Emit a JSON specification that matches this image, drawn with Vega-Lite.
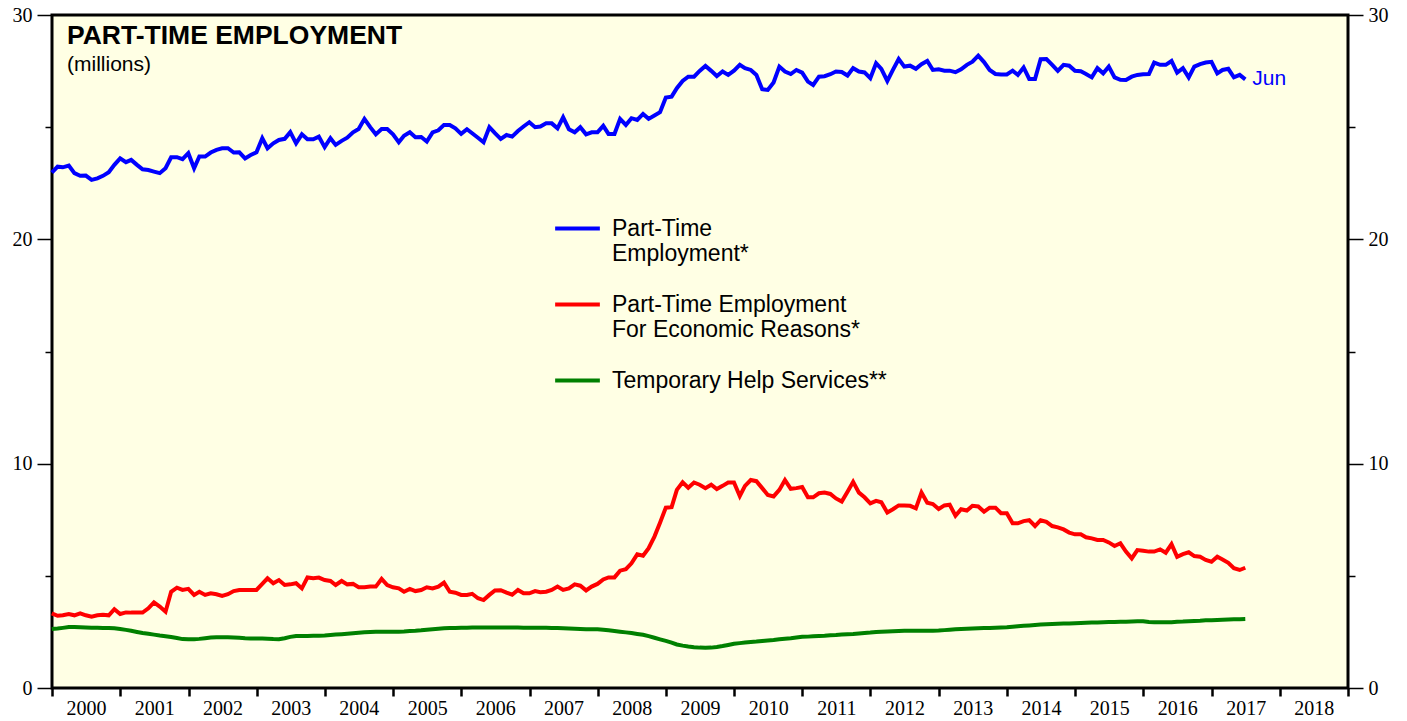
{
  "$schema": "https://vega.github.io/schema/vega-lite/v6.json",
  "width": 1296,
  "height": 673,
  "autosize": "none",
  "padding": {"left": 52, "top": 15, "right": 59, "bottom": 33},
  "background": "white",
  "config": {
    "view": {"fill": "#FFFFE4", "stroke": "black", "strokeWidth": 3},
    "font": "Liberation Sans"
  },
  "title": {
    "text": "PART-TIME EMPLOYMENT",
    "subtitle": "(millions)",
    "anchor": "start",
    "frame": "group",
    "orient": "top",
    "offset": -70,
    "dx": 15,
    "font": "Liberation Sans",
    "fontSize": 26.5,
    "fontWeight": "bold",
    "color": "black",
    "subtitleFont": "Liberation Sans",
    "subtitleFontSize": 21,
    "subtitleColor": "black",
    "subtitlePadding": 5
  },
  "data": {"values": [
{"d":"1999-12-31","a":22.97,"b":3.33,"c":2.63},
{"d":"2000-01-31","a":23.24,"b":3.22,"c":2.65},
{"d":"2000-02-28","a":23.21,"b":3.24,"c":2.68},
{"d":"2000-03-31","a":23.29,"b":3.30,"c":2.72},
{"d":"2000-04-30","a":22.95,"b":3.24,"c":2.72},
{"d":"2000-05-31","a":22.83,"b":3.33,"c":2.71},
{"d":"2000-06-30","a":22.84,"b":3.24,"c":2.70},
{"d":"2000-07-31","a":22.65,"b":3.18,"c":2.69},
{"d":"2000-08-31","a":22.72,"b":3.24,"c":2.69},
{"d":"2000-09-30","a":22.83,"b":3.27,"c":2.68},
{"d":"2000-10-31","a":22.99,"b":3.24,"c":2.67},
{"d":"2000-11-30","a":23.32,"b":3.51,"c":2.66},
{"d":"2000-12-31","a":23.61,"b":3.30,"c":2.63},
{"d":"2001-01-31","a":23.44,"b":3.37,"c":2.59},
{"d":"2001-02-28","a":23.54,"b":3.36,"c":2.55},
{"d":"2001-03-31","a":23.32,"b":3.36,"c":2.50},
{"d":"2001-04-30","a":23.12,"b":3.36,"c":2.45},
{"d":"2001-05-31","a":23.09,"b":3.55,"c":2.42},
{"d":"2001-06-30","a":23.02,"b":3.82,"c":2.38},
{"d":"2001-07-31","a":22.95,"b":3.63,"c":2.34},
{"d":"2001-08-31","a":23.17,"b":3.40,"c":2.31},
{"d":"2001-09-30","a":23.66,"b":4.29,"c":2.27},
{"d":"2001-10-31","a":23.66,"b":4.47,"c":2.23},
{"d":"2001-11-30","a":23.57,"b":4.37,"c":2.18},
{"d":"2001-12-31","a":23.84,"b":4.42,"c":2.17},
{"d":"2002-01-31","a":23.17,"b":4.15,"c":2.17},
{"d":"2002-02-28","a":23.69,"b":4.29,"c":2.19},
{"d":"2002-03-31","a":23.69,"b":4.15,"c":2.22},
{"d":"2002-04-30","a":23.87,"b":4.22,"c":2.25},
{"d":"2002-05-31","a":23.99,"b":4.18,"c":2.26},
{"d":"2002-06-30","a":24.06,"b":4.10,"c":2.26},
{"d":"2002-07-31","a":24.06,"b":4.18,"c":2.26},
{"d":"2002-08-31","a":23.87,"b":4.32,"c":2.25},
{"d":"2002-09-30","a":23.88,"b":4.37,"c":2.24},
{"d":"2002-10-31","a":23.61,"b":4.37,"c":2.22},
{"d":"2002-11-30","a":23.76,"b":4.37,"c":2.21},
{"d":"2002-12-31","a":23.88,"b":4.37,"c":2.21},
{"d":"2003-01-31","a":24.51,"b":4.64,"c":2.21},
{"d":"2003-02-28","a":24.06,"b":4.89,"c":2.20},
{"d":"2003-03-31","a":24.28,"b":4.67,"c":2.18},
{"d":"2003-04-30","a":24.43,"b":4.81,"c":2.17},
{"d":"2003-05-31","a":24.48,"b":4.59,"c":2.22},
{"d":"2003-06-30","a":24.78,"b":4.62,"c":2.28},
{"d":"2003-07-31","a":24.28,"b":4.67,"c":2.32},
{"d":"2003-08-31","a":24.68,"b":4.44,"c":2.32},
{"d":"2003-09-30","a":24.46,"b":4.93,"c":2.32},
{"d":"2003-10-31","a":24.46,"b":4.89,"c":2.33},
{"d":"2003-11-30","a":24.58,"b":4.92,"c":2.33},
{"d":"2003-12-31","a":24.11,"b":4.81,"c":2.34},
{"d":"2004-01-31","a":24.51,"b":4.77,"c":2.36},
{"d":"2004-02-28","a":24.21,"b":4.59,"c":2.38},
{"d":"2004-03-31","a":24.39,"b":4.77,"c":2.40},
{"d":"2004-04-30","a":24.53,"b":4.62,"c":2.42},
{"d":"2004-05-31","a":24.77,"b":4.64,"c":2.44},
{"d":"2004-06-30","a":24.92,"b":4.49,"c":2.46},
{"d":"2004-07-31","a":25.37,"b":4.49,"c":2.48},
{"d":"2004-08-31","a":25.00,"b":4.52,"c":2.50},
{"d":"2004-09-30","a":24.68,"b":4.52,"c":2.51},
{"d":"2004-10-31","a":24.92,"b":4.86,"c":2.51},
{"d":"2004-11-30","a":24.92,"b":4.59,"c":2.51},
{"d":"2004-12-31","a":24.68,"b":4.49,"c":2.51},
{"d":"2005-01-31","a":24.33,"b":4.44,"c":2.51},
{"d":"2005-02-28","a":24.62,"b":4.29,"c":2.52},
{"d":"2005-03-31","a":24.77,"b":4.42,"c":2.54},
{"d":"2005-04-30","a":24.55,"b":4.32,"c":2.55},
{"d":"2005-05-31","a":24.56,"b":4.37,"c":2.57},
{"d":"2005-06-30","a":24.36,"b":4.49,"c":2.60},
{"d":"2005-07-31","a":24.77,"b":4.44,"c":2.62},
{"d":"2005-08-31","a":24.86,"b":4.52,"c":2.64},
{"d":"2005-09-30","a":25.10,"b":4.70,"c":2.66},
{"d":"2005-10-31","a":25.10,"b":4.29,"c":2.67},
{"d":"2005-11-30","a":24.95,"b":4.25,"c":2.68},
{"d":"2005-12-31","a":24.70,"b":4.15,"c":2.69},
{"d":"2006-01-31","a":24.91,"b":4.15,"c":2.69},
{"d":"2006-02-28","a":24.73,"b":4.20,"c":2.70},
{"d":"2006-03-31","a":24.53,"b":4.00,"c":2.70},
{"d":"2006-04-30","a":24.33,"b":3.92,"c":2.70},
{"d":"2006-05-31","a":25.00,"b":4.15,"c":2.70},
{"d":"2006-06-30","a":24.73,"b":4.35,"c":2.70},
{"d":"2006-07-31","a":24.48,"b":4.36,"c":2.70},
{"d":"2006-08-31","a":24.65,"b":4.25,"c":2.70},
{"d":"2006-09-30","a":24.58,"b":4.16,"c":2.70},
{"d":"2006-10-31","a":24.83,"b":4.37,"c":2.70},
{"d":"2006-11-30","a":25.03,"b":4.22,"c":2.69},
{"d":"2006-12-31","a":25.22,"b":4.22,"c":2.69},
{"d":"2007-01-31","a":25.00,"b":4.32,"c":2.69},
{"d":"2007-02-28","a":25.03,"b":4.27,"c":2.69},
{"d":"2007-03-31","a":25.17,"b":4.29,"c":2.69},
{"d":"2007-04-30","a":25.17,"b":4.37,"c":2.68},
{"d":"2007-05-31","a":24.95,"b":4.52,"c":2.67},
{"d":"2007-06-30","a":25.44,"b":4.37,"c":2.66},
{"d":"2007-07-31","a":24.91,"b":4.44,"c":2.65},
{"d":"2007-08-31","a":24.77,"b":4.62,"c":2.64},
{"d":"2007-09-30","a":25.00,"b":4.56,"c":2.63},
{"d":"2007-10-31","a":24.68,"b":4.35,"c":2.62},
{"d":"2007-11-30","a":24.77,"b":4.52,"c":2.62},
{"d":"2007-12-31","a":24.77,"b":4.64,"c":2.62},
{"d":"2008-01-31","a":25.06,"b":4.84,"c":2.60},
{"d":"2008-02-28","a":24.70,"b":4.93,"c":2.57},
{"d":"2008-03-31","a":24.70,"b":4.93,"c":2.54},
{"d":"2008-04-30","a":25.37,"b":5.23,"c":2.51},
{"d":"2008-05-31","a":25.10,"b":5.30,"c":2.48},
{"d":"2008-06-30","a":25.40,"b":5.56,"c":2.45},
{"d":"2008-07-31","a":25.32,"b":5.96,"c":2.41},
{"d":"2008-08-31","a":25.59,"b":5.90,"c":2.37},
{"d":"2008-09-30","a":25.37,"b":6.23,"c":2.31},
{"d":"2008-10-31","a":25.52,"b":6.75,"c":2.24},
{"d":"2008-11-30","a":25.67,"b":7.37,"c":2.17},
{"d":"2008-12-31","a":26.32,"b":8.04,"c":2.10},
{"d":"2009-01-31","a":26.36,"b":8.06,"c":2.02},
{"d":"2009-02-28","a":26.74,"b":8.83,"c":1.94},
{"d":"2009-03-31","a":27.06,"b":9.17,"c":1.89},
{"d":"2009-04-30","a":27.25,"b":8.93,"c":1.85},
{"d":"2009-05-31","a":27.25,"b":9.16,"c":1.82},
{"d":"2009-06-30","a":27.51,"b":9.06,"c":1.80},
{"d":"2009-07-31","a":27.73,"b":8.91,"c":1.79},
{"d":"2009-08-31","a":27.51,"b":9.06,"c":1.80},
{"d":"2009-09-30","a":27.28,"b":8.87,"c":1.83},
{"d":"2009-10-31","a":27.48,"b":9.01,"c":1.87},
{"d":"2009-11-30","a":27.33,"b":9.16,"c":1.92},
{"d":"2009-12-31","a":27.52,"b":9.16,"c":1.97},
{"d":"2010-01-31","a":27.78,"b":8.56,"c":2.00},
{"d":"2010-02-28","a":27.63,"b":9.01,"c":2.03},
{"d":"2010-03-31","a":27.55,"b":9.27,"c":2.05},
{"d":"2010-04-30","a":27.33,"b":9.22,"c":2.07},
{"d":"2010-05-31","a":26.69,"b":8.91,"c":2.10},
{"d":"2010-06-30","a":26.66,"b":8.60,"c":2.12},
{"d":"2010-07-31","a":26.99,"b":8.54,"c":2.14},
{"d":"2010-08-31","a":27.70,"b":8.83,"c":2.17},
{"d":"2010-09-30","a":27.48,"b":9.27,"c":2.20},
{"d":"2010-10-31","a":27.37,"b":8.88,"c":2.22},
{"d":"2010-11-30","a":27.55,"b":8.91,"c":2.25},
{"d":"2010-12-31","a":27.43,"b":8.96,"c":2.28},
{"d":"2011-01-31","a":27.03,"b":8.50,"c":2.29},
{"d":"2011-02-28","a":26.88,"b":8.50,"c":2.31},
{"d":"2011-03-31","a":27.25,"b":8.68,"c":2.32},
{"d":"2011-04-30","a":27.27,"b":8.71,"c":2.33},
{"d":"2011-05-31","a":27.36,"b":8.65,"c":2.35},
{"d":"2011-06-30","a":27.48,"b":8.45,"c":2.36},
{"d":"2011-07-31","a":27.46,"b":8.31,"c":2.38},
{"d":"2011-08-31","a":27.30,"b":8.75,"c":2.40},
{"d":"2011-09-30","a":27.63,"b":9.19,"c":2.41},
{"d":"2011-10-31","a":27.48,"b":8.71,"c":2.43},
{"d":"2011-11-30","a":27.44,"b":8.50,"c":2.45},
{"d":"2011-12-31","a":27.18,"b":8.23,"c":2.47},
{"d":"2012-01-31","a":27.85,"b":8.34,"c":2.50},
{"d":"2012-02-28","a":27.60,"b":8.28,"c":2.51},
{"d":"2012-03-31","a":27.06,"b":7.82,"c":2.52},
{"d":"2012-04-30","a":27.55,"b":7.97,"c":2.53},
{"d":"2012-05-31","a":28.04,"b":8.14,"c":2.54},
{"d":"2012-06-30","a":27.70,"b":8.14,"c":2.55},
{"d":"2012-07-31","a":27.74,"b":8.12,"c":2.55},
{"d":"2012-08-31","a":27.60,"b":8.01,"c":2.55},
{"d":"2012-09-30","a":27.81,"b":8.71,"c":2.55},
{"d":"2012-10-31","a":27.95,"b":8.26,"c":2.55},
{"d":"2012-11-30","a":27.55,"b":8.20,"c":2.55},
{"d":"2012-12-31","a":27.58,"b":7.98,"c":2.56},
{"d":"2013-01-31","a":27.52,"b":8.14,"c":2.58},
{"d":"2013-02-28","a":27.52,"b":8.17,"c":2.60},
{"d":"2013-03-31","a":27.45,"b":7.68,"c":2.62},
{"d":"2013-04-30","a":27.58,"b":7.97,"c":2.63},
{"d":"2013-05-31","a":27.78,"b":7.91,"c":2.64},
{"d":"2013-06-30","a":27.92,"b":8.12,"c":2.65},
{"d":"2013-07-31","a":28.19,"b":8.09,"c":2.66},
{"d":"2013-08-31","a":27.90,"b":7.86,"c":2.67},
{"d":"2013-09-30","a":27.55,"b":8.04,"c":2.68},
{"d":"2013-10-31","a":27.37,"b":8.04,"c":2.69},
{"d":"2013-11-30","a":27.35,"b":7.79,"c":2.70},
{"d":"2013-12-31","a":27.35,"b":7.79,"c":2.71},
{"d":"2014-01-31","a":27.52,"b":7.34,"c":2.73},
{"d":"2014-02-28","a":27.33,"b":7.34,"c":2.75},
{"d":"2014-03-31","a":27.66,"b":7.44,"c":2.77},
{"d":"2014-04-30","a":27.15,"b":7.48,"c":2.79},
{"d":"2014-05-31","a":27.15,"b":7.22,"c":2.81},
{"d":"2014-06-30","a":28.03,"b":7.48,"c":2.83},
{"d":"2014-07-31","a":28.04,"b":7.41,"c":2.84},
{"d":"2014-08-31","a":27.78,"b":7.22,"c":2.85},
{"d":"2014-09-30","a":27.51,"b":7.16,"c":2.86},
{"d":"2014-10-31","a":27.78,"b":7.07,"c":2.87},
{"d":"2014-11-30","a":27.74,"b":6.93,"c":2.88},
{"d":"2014-12-31","a":27.51,"b":6.85,"c":2.89},
{"d":"2015-01-31","a":27.49,"b":6.85,"c":2.90},
{"d":"2015-02-28","a":27.37,"b":6.72,"c":2.91},
{"d":"2015-03-31","a":27.22,"b":6.67,"c":2.92},
{"d":"2015-04-30","a":27.63,"b":6.60,"c":2.92},
{"d":"2015-05-31","a":27.40,"b":6.60,"c":2.93},
{"d":"2015-06-30","a":27.70,"b":6.49,"c":2.94},
{"d":"2015-07-31","a":27.22,"b":6.33,"c":2.94},
{"d":"2015-08-31","a":27.11,"b":6.45,"c":2.95},
{"d":"2015-09-30","a":27.10,"b":6.08,"c":2.95},
{"d":"2015-10-31","a":27.25,"b":5.78,"c":2.96},
{"d":"2015-11-30","a":27.33,"b":6.15,"c":2.97},
{"d":"2015-12-31","a":27.36,"b":6.12,"c":2.97},
{"d":"2016-01-31","a":27.37,"b":6.08,"c":2.94},
{"d":"2016-02-28","a":27.88,"b":6.08,"c":2.93},
{"d":"2016-03-31","a":27.78,"b":6.18,"c":2.93},
{"d":"2016-04-30","a":27.78,"b":6.03,"c":2.93},
{"d":"2016-05-31","a":27.95,"b":6.41,"c":2.93},
{"d":"2016-06-30","a":27.43,"b":5.85,"c":2.95},
{"d":"2016-07-31","a":27.63,"b":5.97,"c":2.96},
{"d":"2016-08-31","a":27.22,"b":6.05,"c":2.98},
{"d":"2016-09-30","a":27.70,"b":5.88,"c":2.99},
{"d":"2016-10-31","a":27.81,"b":5.85,"c":3.00},
{"d":"2016-11-30","a":27.88,"b":5.71,"c":3.02},
{"d":"2016-12-31","a":27.91,"b":5.63,"c":3.02},
{"d":"2017-01-31","a":27.40,"b":5.85,"c":3.03},
{"d":"2017-02-28","a":27.55,"b":5.73,"c":3.04},
{"d":"2017-03-31","a":27.60,"b":5.58,"c":3.05},
{"d":"2017-04-30","a":27.22,"b":5.34,"c":3.06},
{"d":"2017-05-31","a":27.33,"b":5.26,"c":3.07},
{"d":"2017-06-30","a":27.13,"b":5.36,"c":3.08}
  ]},
  "encoding": {
    "x": {
      "field": "d",
      "type": "temporal",
      "scale": {"type": "utc", "domain": [{"year": 2000, "month": 1, "date": 1, "utc": true}, {"year": 2019, "month": 1, "date": 1, "utc": true}], "nice": false},
      "axis": {
        "title": null,
        "domain": false,
        "grid": false,
        "tickCount": {"interval": "year", "step": 1},
        "labelExpr": "utcyear(datum.value) > 2018 ? '' : '' + utcyear(datum.value)",
        "labelOffset": 34,
        "labelFlush": false,
        "labelOverlap": false,
        "labelBound": false,
        "labelFont": "Liberation Serif",
        "labelFontSize": 20,
        "labelColor": "black",
        "labelPadding": 2,
        "tickSize": 8,
        "tickWidth": 2.5,
        "tickColor": "black"
      }
    }
  },
  "layer": [
    {
      "mark": {"type": "line", "strokeWidth": 4},
      "encoding": {
        "y": {
          "field": "a",
          "type": "quantitative",
          "scale": {"domain": [0, 30], "nice": false, "zero": false},
          "axis": {
            "orient": "left",
            "title": null,
            "domain": false,
            "grid": false,
            "values": [0, 5, 10, 15, 20, 25, 30],
            "labelExpr": "datum.value % 10 == 0 ? datum.label : ''",
            "tickSize": {"condition": {"test": "datum.value % 10 == 0", "value": 15}, "value": 7},
            "tickWidth": 1.5,
            "tickColor": "black",
            "labelPadding": 5,
            "labelFont": "Liberation Serif",
            "labelFontSize": 20,
            "labelColor": "black"
          }
        },
        "color": {
          "datum": "Part-Time Employment*",
          "type": "nominal",
          "scale": {
            "domain": ["Part-Time Employment*", "Part-Time Employment For Economic Reasons*", "Temporary Help Services**"],
            "range": ["#0000FF", "#FF0000", "#008000"]
          },
          "legend": {
            "orient": "none",
            "legendX": 501,
            "legendY": 189,
            "title": null,
            "symbolType": "stroke",
            "symbolStrokeWidth": 4,
            "symbolSize": 2000,
            "labelFont": "Liberation Sans",
            "labelFontSize": 23,
            "labelColor": "black",
            "labelLimit": 0,
            "labelOffset": 10,
            "rowPadding": 14,
            "labelExpr": "datum.label == 'Part-Time Employment*' ? ['Part-Time', 'Employment*'] : (datum.label == 'Temporary Help Services**' ? datum.label : ['Part-Time Employment', 'For Economic Reasons*'])"
          }
        }
      }
    },
    {
      "mark": {"type": "line", "strokeWidth": 4},
      "encoding": {
        "y": {
          "field": "b",
          "type": "quantitative",
          "axis": {
            "orient": "right",
            "title": null,
            "domain": false,
            "grid": false,
            "values": [0, 5, 10, 15, 20, 25, 30],
            "labelExpr": "datum.value % 10 == 0 ? datum.label : ''",
            "tickSize": {"condition": {"test": "datum.value % 10 == 0", "value": 15}, "value": 7},
            "tickWidth": 1.5,
            "tickColor": "black",
            "labelPadding": 5,
            "labelFont": "Liberation Serif",
            "labelFontSize": 20,
            "labelColor": "black"
          }
        },
        "color": {"datum": "Part-Time Employment For Economic Reasons*", "type": "nominal"}
      }
    },
    {
      "mark": {"type": "line", "strokeWidth": 4},
      "encoding": {
        "y": {"field": "c", "type": "quantitative", "axis": null},
        "color": {"datum": "Temporary Help Services**", "type": "nominal"}
      }
    },
    {
      "transform": [{"filter": "utcyear(datum.d) == 2017 && utcmonth(datum.d) == 5"}],
      "mark": {"type": "text", "align": "left", "baseline": "middle", "dx": 7, "font": "Liberation Sans", "fontSize": 21, "color": "#0000FF"},
      "encoding": {
        "y": {"field": "a", "type": "quantitative", "axis": null},
        "text": {"value": "Jun"}
      }
    }
  ],
  "resolve": {"axis": {"y": "independent"}}
}
